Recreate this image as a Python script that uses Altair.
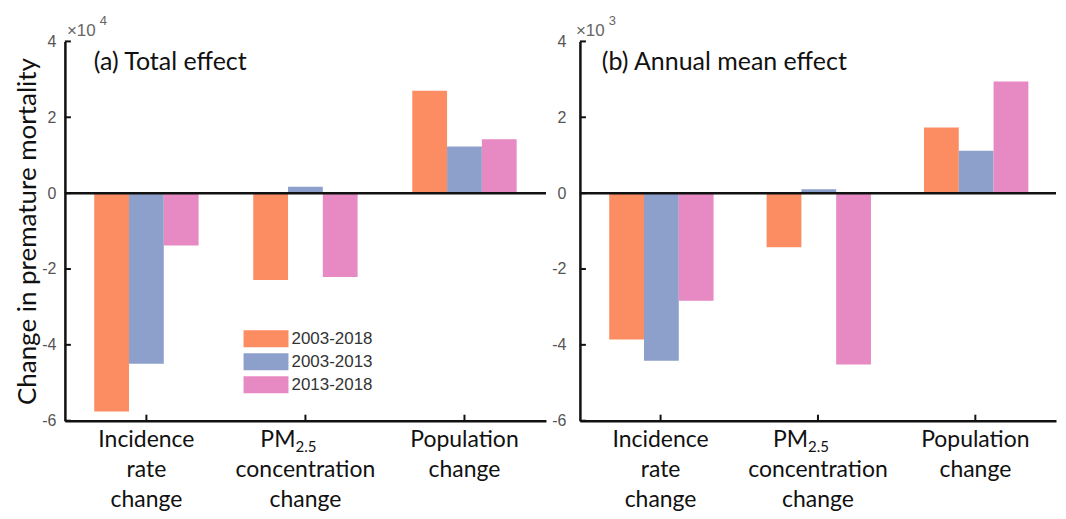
import altair as alt
import pandas as pd

categories = ["Incidence rate change", "PM2.5 concentration change", "Population change"]
series = ["2003-2018", "2003-2013", "2013-2018"]
colors = ["#FC8D62", "#8DA0CB", "#E78AC3"]

# panel (a): total effect, units of 1e4
total_2003_2018 = [-5.76, -2.29, 2.70]
total_2003_2013 = [-4.50, 0.17, 1.23]
total_2013_2018 = [-1.38, -2.21, 1.42]
# panel (b): annual mean effect, units of 1e3
annual_2003_2018 = [-3.86, -1.43, 1.73]
annual_2003_2013 = [-4.42, 0.10, 1.12]
annual_2013_2018 = [-2.84, -4.52, 2.94]

yticks = [-6, -4, -2, 0, 2, 4]
label_lines = ["Incidence|rate|change", "|concentration|change", "Population|change"]

H = 380
FONT_T = "Lato"
FONT_N = "Liberation Sans"
INK = "#111111"


def one(**kw):
    return pd.DataFrame({k: [v] for k, v in kw.items()})


def make_panel(vals, width, title, title_dx, exp, exp_dx, label_pad, ytitle, legend):
    rows = []
    for s, v in zip(series, vals):
        for c, x in zip(categories, v):
            rows.append({"category": c, "series": s, "value": x})
    df = pd.DataFrame(rows)

    xscale = alt.Scale(domain=categories, paddingInner=0, paddingOuter=0.0125, align=0.5)
    yscale = alt.Scale(domain=[-6, 4], nice=False, zero=False)

    yaxis_kw = dict(values=yticks, ticks=False, grid=False, domainColor=INK, domainWidth=2.5,
                    labelFont=FONT_N, labelFontSize=16, labelColor="#555", labelPadding=label_pad,
                    labelExpr="replace(datum.label, '\u2212', '-')")
    if ytitle:
        yaxis = alt.Axis(title=ytitle, titleFont=FONT_T, titleFontSize=26,
                         titleFontWeight="normal", titleColor=INK, titlePadding=1, **yaxis_kw)
    else:
        yaxis = alt.Axis(title=None, **yaxis_kw)
    xaxis = alt.Axis(labels=False, ticks=False, title=None, grid=False,
                     domainColor=INK, domainWidth=2.5)

    bars = alt.Chart(df).mark_bar().encode(
        x=alt.X("category:N", scale=xscale, sort=categories, axis=xaxis),
        xOffset=alt.XOffset("series:N", sort=series,
                            scale=alt.Scale(domain=series, paddingInner=0, paddingOuter=0.786)),
        y=alt.Y("value:Q", scale=yscale, axis=yaxis),
        color=alt.Color("series:N", scale=alt.Scale(domain=series, range=colors), legend=None),
    )

    zero = alt.Chart(one(value=0)).mark_rule(color=INK, strokeWidth=2.5).encode(
        y=alt.Y("value:Q", axis=yaxis))

    ytick = alt.Chart(pd.DataFrame({"value": yticks})).mark_rule(color=INK, strokeWidth=2).encode(
        y=alt.Y("value:Q", axis=yaxis), x=alt.value(0), x2=alt.value(6))

    xtick = alt.Chart(pd.DataFrame({"category": categories})).mark_rule(color=INK, strokeWidth=2).encode(
        x=alt.X("category:N", sort=categories, axis=xaxis), y=alt.value(H), y2=alt.value(H - 6))

    xlab = alt.Chart(pd.DataFrame({"category": categories, "lab": label_lines})).mark_text(
        font=FONT_T, fontSize=23, color=INK, baseline="top", align="center",
        lineBreak="|", lineHeight=30).encode(
        x=alt.X("category:N", sort=categories, axis=xaxis), y=alt.value(H + 8), text="lab:N")

    pm = alt.Chart(pd.DataFrame({"category": [categories[1]], "t": ["PM"]})).mark_text(
        font=FONT_T, fontSize=23, color=INK, baseline="top", align="right", dx=-10).encode(
        x=alt.X("category:N", sort=categories, axis=xaxis), y=alt.value(H + 8), text="t:N")
    pmsub = alt.Chart(pd.DataFrame({"category": [categories[1]], "t": ["2.5"]})).mark_text(
        font=FONT_T, fontSize=15, color=INK, baseline="top", align="left", dx=-10).encode(
        x=alt.X("category:N", sort=categories, axis=xaxis), y=alt.value(H + 19), text="t:N")

    ttl = alt.Chart(one(t=title)).mark_text(font=FONT_T, fontSize=25, color=INK,
                                           align="left", baseline="middle").encode(
        x=alt.value(title_dx), y=alt.value(21), text="t:N")

    ex1 = alt.Chart(one(t="\u00d710")).mark_text(font=FONT_N, fontSize=17, color="#666",
                                               align="left", baseline="middle").encode(
        x=alt.value(exp_dx), y=alt.value(-10), text="t:N")
    ex2 = alt.Chart(one(t=exp)).mark_text(font=FONT_N, fontSize=13, color="#666",
                                        align="left", baseline="middle").encode(
        x=alt.value(exp_dx + 33), y=alt.value(-20), text="t:N")

    layers = [bars, zero, ytick, xtick, xlab, pm, pmsub, ttl, ex1, ex2]

    if legend:
        for i, (s, c) in enumerate(zip(series, colors)):
            yc = 298 + 23 * i
            layers.append(alt.Chart(one(s=s)).mark_rect(color=c).encode(
                x=alt.value(179), x2=alt.value(224), y=alt.value(yc - 8.5), y2=alt.value(yc + 8.5)))
            layers.append(alt.Chart(one(s=s)).mark_text(font=FONT_N, fontSize=17, color="#333",
                                                       align="left", baseline="middle").encode(
                x=alt.value(227), y=alt.value(yc), text="s:N"))

    return alt.layer(*layers).properties(width=width, height=H)


pa = make_panel([total_2003_2018, total_2003_2013, total_2013_2018], 482,
                "(a) Total effect", 29, "4", 2, 9, "Change in premature mortality", True)
pb = make_panel([annual_2003_2018, annual_2003_2013, annual_2013_2018], 477,
                "(b) Annual mean effect", 22, "3", -4, 14, None, False)

chart = alt.hconcat(pa, pb, spacing=34, bounds="flush").properties(
    padding={"left": 6, "top": 7, "right": 0, "bottom": 0}
).configure(background="white").configure_view(stroke=None).configure_axis(
    domainColor=INK, domainWidth=2.5)

chart.save("out.html", embed_options={"renderer": "svg", "actions": False})
